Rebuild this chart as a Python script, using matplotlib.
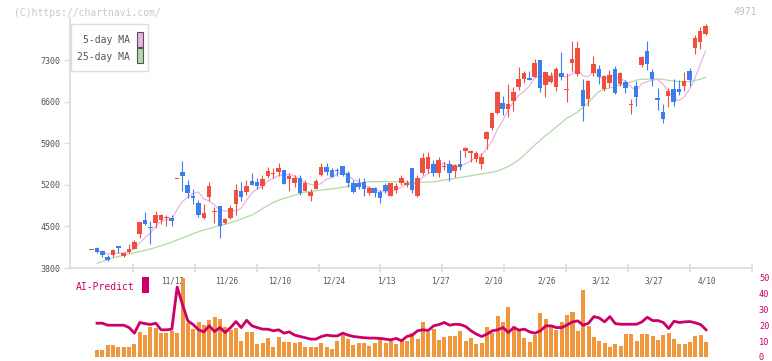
import numpy as np
import pandas as pd
import matplotlib
matplotlib.use('Agg')
import matplotlib.pyplot as plt
from matplotlib.patches import Rectangle

plt.rcParams['font.family'] = 'DejaVu Sans Mono'

# daily candles (yen), oldest first
opens = [4110, 4136, 4086, 3990, 4024, 4170, 4007, 4074, 4124, 4377,
         4606, 4490, 4560, 4612, 4645, 4640, 5294, 5410, 5195, 5015,
         4893, 4645, 4998, 4750, 4842, 4562, 4645, 4872, 5090, 5073,
         5257, 5247, 5185, 5347, 5380, 5415, 5450, 5305, 5225, 5315,
         5100, 5015, 5135, 5365, 5495, 5450, 5445, 5515, 5400, 5230,
         5230, 5247, 5067, 5140, 5072, 5190, 5015, 5110, 5225, 5200,
         5480, 5015, 5395, 5460, 5550, 5405, 5505, 5550, 5440, 5550,
         5775, 5730, 5630, 5550, 5976, 6156, 6404, 6572, 6481, 6616,
         6846, 6976, 6998, 7020, 7300, 6885, 6930, 6851, 7087, 6796,
         7245, 7065, 6796, 6650, 7077, 7149, 6807, 6908, 7149, 6897,
         6930, 6543, 6863, 7222, 7452, 7099, 6661, 6425, 6695, 6813,
         6813, 6863, 7115, 7508, 7609, 7738]
highs = [4110, 4158, 4095, 4018, 4116, 4170, 4074, 4198, 4270, 4573,
         4740, 4590, 4759, 4702, 4690, 4690, 5294, 5600, 5280, 5133,
         4945, 4875, 5245, 4830, 4842, 4636, 4860, 5215, 5240, 5280,
         5400, 5310, 5365, 5505, 5475, 5570, 5450, 5400, 5365, 5365,
         5280, 5133, 5290, 5560, 5560, 5480, 5475, 5515, 5440, 5280,
         5310, 5310, 5185, 5165, 5115, 5230, 5230, 5225, 5365, 5280,
         5480, 5365, 5740, 5745, 5617, 5665, 5580, 5617, 5550, 5785,
         5830, 5785, 5775, 5730, 6111, 6404, 6780, 6695, 6897, 6851,
         7190, 7110, 7121, 7323, 7300, 7099, 7099, 7188, 7435, 7080,
         7620, 7620, 6981, 6964, 7368, 7216, 7053, 7130, 7200, 7099,
         6964, 6649, 6947, 7368, 7620, 7149, 6829, 6560, 6829, 6981,
         6964, 7099, 7166, 7721, 7856, 7906]
lows = [4110, 4057, 3990, 3918, 3990, 4057, 3990, 4057, 4116, 4310,
        4525, 4207, 4478, 4545, 4510, 4510, 5294, 5100, 4985, 4880,
        4662, 4628, 4930, 4557, 4313, 4540, 4628, 4700, 4932, 5032,
        5200, 5125, 5133, 5315, 5320, 5347, 5213, 5095, 5165, 5030,
        5090, 4930, 5133, 5345, 5365, 5335, 5345, 5340, 5158, 5065,
        5133, 5010, 5030, 5000, 4888, 5065, 5015, 5065, 5200, 5165,
        5065, 4998, 5360, 5395, 5350, 5330, 5445, 5260, 5335, 5450,
        5665, 5590, 5585, 5465, 5808, 6130, 6390, 6380, 6336, 6447,
        6800, 6908, 6964, 7009, 6762, 6673, 6908, 6784, 6964, 6599,
        7115, 7031, 6279, 6526, 7031, 6897, 6784, 6841, 6728, 6863,
        6750, 6392, 6526, 7188, 7132, 6863, 6459, 6235, 6505, 6526,
        6712, 6784, 6863, 7407, 7491, 7721]
closes = [4110, 4074, 4024, 3934, 4103, 4136, 4057, 4124, 4237, 4573,
          4546, 4465, 4686, 4690, 4662, 4594, 5294, 5353, 5067, 4972,
          4697, 4725, 5178, 4760, 4510, 4620, 4805, 5113, 4990, 5180,
          5200, 5185, 5297, 5437, 5395, 5480, 5213, 5353, 5315, 5055,
          5230, 5083, 5260, 5495, 5410, 5335, 5430, 5370, 5225, 5085,
          5168, 5135, 5140, 5055, 4972, 5100, 5230, 5185, 5315, 5225,
          5115, 5315, 5650, 5665, 5395, 5610, 5515, 5405, 5530, 5495,
          5820, 5775, 5730, 5665, 6089, 6404, 6762, 6471, 6560, 6762,
          6975, 7077, 6964, 7245, 6829, 7099, 7031, 7154, 7009, 6813,
          7312, 7508, 6526, 6947, 7233, 7009, 7031, 7048, 6750, 7082,
          6834, 6555, 6683, 7351, 7233, 6986, 6622, 6303, 6779, 6599,
          6767, 6947, 6964, 7671, 7789, 7873]

# 25-day MA as drawn (candles 2..116)
ma25 = [3881, 3909, 3940, 3968, 3992, 4014, 4036, 4056, 4076,
        4098, 4120, 4147, 4175, 4206, 4234, 4271, 4305, 4339, 4376,
        4411, 4440, 4463, 4490, 4514, 4537, 4561, 4591, 4625, 4658,
        4692, 4742, 4798, 4852, 4902, 4939, 4970, 4997, 5025, 5056,
        5076, 5089, 5099, 5111, 5121, 5131, 5143, 5158, 5175, 5195,
        5217, 5241, 5252, 5252, 5252, 5252, 5252, 5252, 5251, 5246,
        5239, 5238, 5243, 5247, 5251, 5264, 5279, 5294, 5308, 5323,
        5338, 5352, 5367, 5382, 5397, 5412, 5432, 5470, 5505, 5562,
        5618, 5693, 5786, 5870, 5946, 6027, 6097, 6170, 6242, 6321,
        6367, 6425, 6501, 6577, 6678, 6770, 6804, 6829, 6855, 6880,
        6905, 6930, 6959, 6976, 6977, 6979, 6981, 6973, 6959, 6947,
        6937, 6930, 6939, 6956, 6976, 7009]

# volume (scaled to the 0-50 axis) and AI-Predict, candles 2..116
volume = [4.6, 4.6, 7.5, 7.5, 6.2, 6.2, 6.2, 8.1, 15.6, 13.75,
          19, 18.1, 15, 15, 16.25, 15, 49.4, 21.5, 17.5, 22.1,
          20, 23.1, 25.2, 24, 18.75, 17.1, 18.1, 10.2, 15.8, 15.8,
          8.1, 8.75, 11.9, 6.2, 12.7, 9.6, 9.6, 8.75, 9.6, 6.2,
          6.2, 6.2, 8.75, 6.2, 5, 10, 13.75, 11.25, 7.5, 8.75,
          8.75, 6.7, 8.75, 11.25,
          8.75, 10.2, 8.1, 11.25, 10.2, 15, 11.25, 22.1, 15.8, 17.5,
          10.8, 12.7, 13.1, 13.1, 16.25, 10.2, 11.9, 8.1, 8.75, 18.75,
          15.4, 25.6, 22.1, 31.25, 19.2, 17.5, 11.9, 9.6, 13.75, 27.5,
          23.75, 19.6, 17.1, 22.1, 26.25, 28.1, 16.5, 41.9, 19.4, 12.7,
          10, 8.75, 6.25, 8.1, 7.1, 14.4, 14.4, 10.2, 14.4, 14.4,
          13.1, 10.8, 13.75, 15, 11.25, 8.1, 8.1, 9.6, 13.1, 13.75, 9.6]
ai_predict = [21.25, 21.25, 20, 20, 20, 20, 18.5, 15, 21.7, 21,
              20.4, 21.25, 17.1, 17.1, 17.5, 44, 33,
              22.7, 20.4, 17.1, 15.8, 19.6, 16, 18.5, 15.4, 18.5, 22.3,
              18.5, 23.1, 19.6, 18.5, 17.5, 17.5, 16.5, 17.1, 15, 15.8,
              13.75, 12.9, 12.1, 11.25, 11.25, 12.9, 13.75, 13.3, 13.3, 15,
              13.75, 12.9, 12.5, 12.1, 11.9, 11.9, 11.7, 11.25,
              10.8, 11.7, 10.2, 12.9, 13.75, 16.5, 17.1, 16.7, 19.6, 20.4,
              21.7, 20, 20.6, 20.4, 19.2, 16.5, 14.4, 12.9, 14.4, 16.5,
              17.1, 18.5, 15.4, 18.5, 16.9, 17.5, 15.8, 15, 16.5, 19.6,
              19.6, 18.5, 18.5, 20.2, 22.1, 22.7, 20, 21.25, 25.4, 24.6,
              22.1, 25.4, 21, 20.6, 20.6, 20.6, 20.6, 22.1, 25, 22.9,
              22.9, 21.7, 17.9, 22.5, 21.7, 22.1, 22.3, 21.5, 20.4, 17.1]

date_labels = ['11/12', '11/26', '12/10', '12/24', '1/13', '1/27',
               '2/10', '2/26', '3/12', '3/27', '4/10']
date_idx = [15, 25, 35, 45, 55, 65, 75, 85, 95, 105, 115]

price_ticks = [3800, 4500, 5200, 5900, 6600, 7300]
ai_ticks = [0, 10, 20, 30, 40, 50]

RED = '#f04e3e'
BLUE = '#3d7ded'
PINK = '#e8b4e8'
GREEN = '#b2daa6'
ORANGE = '#f0963c'
CRIMSON = '#cc0066'
GRID = '#dddddd'
TXT = '#555555'

W, H = 772, 361
fig = plt.figure(figsize=(W / 100, H / 100), dpi=100)
fig.patch.set_facecolor('white')


def fx(px):
    return px / W


def fy(py):
    return 1 - py / H


ax = fig.add_axes([fx(70), fy(268), fx(752) - fx(70), fy(18) - fy(268)])
ax2 = fig.add_axes([fx(70), fy(357), fx(752) - fx(70), fy(277.5) - fy(357)])

xlim = (-4.06, 123.6)
o = np.array(opens)
h = np.array(highs)
l = np.array(lows)
c = np.array(closes)
x = np.arange(len(c))
col = np.where(c >= o, RED, BLUE)

ma5 = pd.Series(c).rolling(5, min_periods=1).mean()
ax.plot(x[1:], ma5[1:], color=PINK, lw=0.9, zorder=2)
ax.plot(x[1:], ma25, color=GREEN, lw=0.9, zorder=2)

ax.vlines(x, l, h, colors=col, lw=0.8, zorder=3)
ax.bar(x, np.maximum(np.abs(c - o), 14), bottom=np.minimum(o, c), width=0.85,
       color=col, linewidth=0, zorder=4)

ax.set_xlim(*xlim)
ax.set_ylim(3800, 8007)
for s in ['top', 'right']:
    ax.spines[s].set_visible(False)
for s in ['left', 'bottom']:
    ax.spines[s].set_color(GRID)
    ax.spines[s].set_linewidth(1.3)
ax.set_yticks(price_ticks)
ax.set_yticklabels([str(v) for v in price_ticks])
ax.tick_params(axis='y', color=GRID, length=4, width=1, labelcolor=TXT,
               labelsize=6, pad=3)
ax.set_xticks(np.arange(7.7, 124, 11.6))
ax.tick_params(axis='x', direction='inout', color=GRID, length=6, width=1.2,
               labelbottom=False)

# lower panel: volume + AI-Predict
ax2.bar(x[1:], volume, width=0.75, color=ORANGE, linewidth=0, zorder=2)
ax2.plot(x[1:], ai_predict, color=CRIMSON, lw=2.0, zorder=3)
for d, lab in zip(date_idx, date_labels):
    ax2.text(d + 0.2, 47.5, lab, ha='center', va='center', fontsize=5.6,
             color=TXT, zorder=1)
ax2.set_xlim(*xlim)
ax2.set_ylim(0, 50)
for s in ax2.spines.values():
    s.set_visible(False)
ax2.set_xticks([])
ax2.yaxis.tick_right()
ax2.set_yticks(ai_ticks)
ax2.set_yticklabels([str(v) for v in ai_ticks])
ax2.tick_params(axis='y', length=0, pad=5, labelsize=6.2, labelcolor=CRIMSON)

fig.text(fx(76), fy(286.5), 'AI-Predict', color=CRIMSON, fontsize=7,
         ha='left', va='center')
fig.add_artist(Rectangle((fx(142), fy(293)), fx(149) - fx(142),
                         fy(277) - fy(293), transform=fig.transFigure,
                         facecolor=CRIMSON, edgecolor='none'))

# legend box
fig.add_artist(Rectangle((fx(70.7), fy(71)), fx(148) - fx(70.7),
                         fy(24.3) - fy(71), transform=fig.transFigure,
                         facecolor='white', edgecolor=GRID, lw=1, zorder=10))
fig.text(fx(130), fy(40), '5-day MA', ha='right', va='center', fontsize=7,
         color=TXT, zorder=11)
fig.text(fx(130), fy(57), '25-day MA', ha='right', va='center', fontsize=7,
         color=TXT, zorder=11)
for top, fc in [(31.7, PINK), (48.3, GREEN)]:
    fig.add_artist(Rectangle((fx(137), fy(top + 15)), fx(142.5) - fx(137),
                             fy(top) - fy(top + 15), transform=fig.transFigure,
                             facecolor=fc, edgecolor=TXT, lw=0.8, zorder=11))

fig.text(fx(14), fy(12.7), '(C)https://chartnavi.com/', ha='left',
         va='center', fontsize=7, color='#c8c8c8')
fig.text(fx(757), fy(12), '4971', ha='right', va='center', fontsize=7,
         color='#c0c0c0')

fig.savefig('out.png', dpi=100, facecolor='white')
